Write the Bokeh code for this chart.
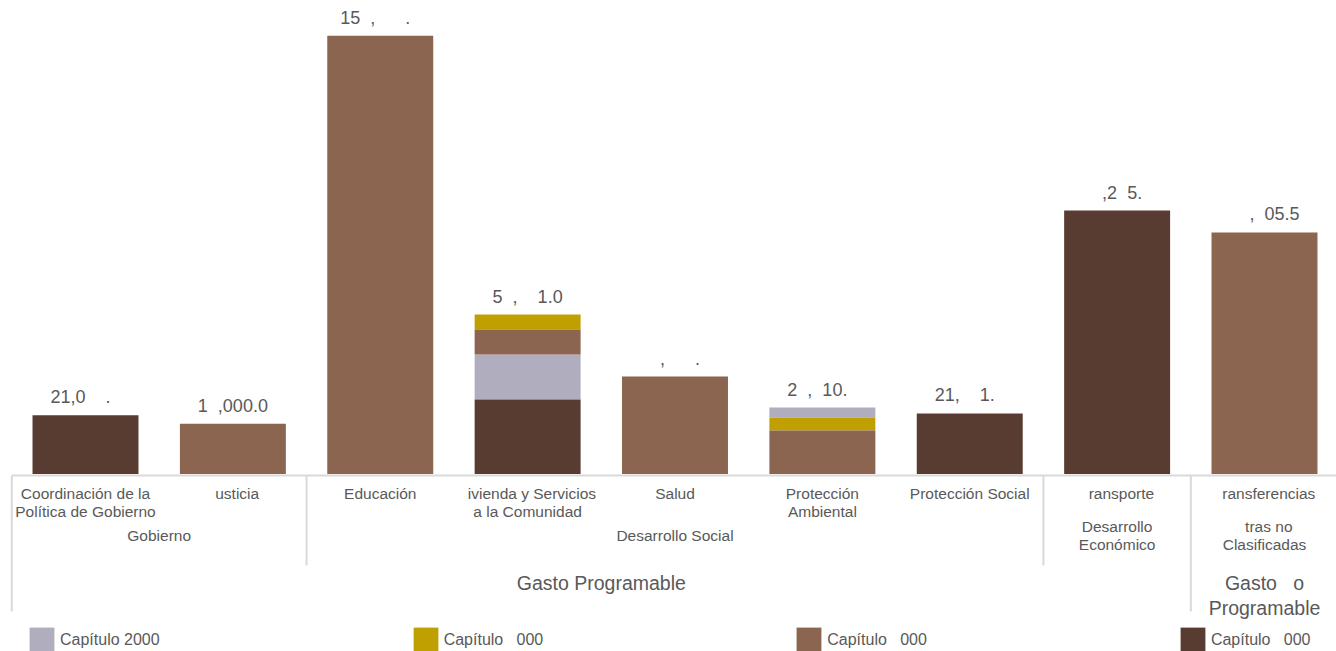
from bokeh.plotting import figure
from bokeh.models import ColumnDataSource, Legend, LegendItem, Range1d
from bokeh.embed import file_html
from bokeh.resources import INLINE
from bokeh.core.properties import value

# ---------------- data ----------------
# '#' marks a character that is not printed in the source (shown as a blank gap)
categories = [
    "Coordinación de la\nPolítica de Gobierno",
    "#usticia",
    "Educación",
    "#ivienda y Servicios\na la Comunidad",
    "Salud",
    "Protección\nAmbiental",
    "Protección Social",
    "#ransporte",
    "#ransferencias",
]
cap2000 = [0, 0, 0, 16110, 0, 3580, 0, 0, 0]
cap3000 = [0, 0, 0, 5370, 0, 4650, 0, 0, 0]
cap4000 = [0, 18000, 156900, 8950, 34900, 15570, 0, 0, 86460]
cap6000 = [21050, 0, 0, 26670, 0, 0, 21660, 94330, 0]
value_labels = ["21,0##.#", "1#,000.0", "15#,###.#", "5#,##1.0", "##,###.#",
                "2#,#10.#", "21,##1.#", "##,2#5.#", "##,#05.5"]
# stacking order (bottom -> top) for each category
stack_orders = [
    ["c6000", "c2000", "c4000", "c3000"],
    ["c6000", "c2000", "c4000", "c3000"],
    ["c6000", "c2000", "c4000", "c3000"],
    ["c6000", "c2000", "c4000", "c3000"],
    ["c6000", "c2000", "c4000", "c3000"],
    ["c4000", "c3000", "c2000", "c6000"],
    ["c6000", "c2000", "c4000", "c3000"],
    ["c6000", "c2000", "c4000", "c3000"],
    ["c6000", "c2000", "c4000", "c3000"],
]
series_names = ["c2000", "c3000", "c4000", "c6000"]
legend_labels = ["Capítulo 2000", "Capítulo #000", "Capítulo #000", "Capítulo #000"]
colors = ["#b0adbf", "#bfa000", "#8b654f", "#583c32"]
subgroups = [("Gobierno", 0, 1), ("Desarrollo Social", 2, 6),
             ("Desarrollo\nEconómico", 7, 7), ("#tras no\nClasificadas", 8, 8)]
topgroups = [("Gasto Programable", 0, 7), ("Gasto #o\nProgramable", 8, 8)]

GAP = "\u00a0\u00a0"


def shown(s):
    return s.replace("#", GAP)


# ---------------- layout helpers ----------------
SCALE = 358.0      # value units per pixel
BASE_PX = 473.5    # pixel row of the zero line
W, H = 1336, 651


def ypx(py):
    return (BASE_PX - py) * SCALE


def xpx(px):
    return (px - 85.0) / 147.375


TXT = "#595959"
FONT_NAME = "Liberation Sans"
FONT = value(FONT_NAME)

p = figure(width=W, height=H,
           x_range=Range1d(xpx(0), xpx(W)),
           y_range=Range1d(ypx(H), ypx(0)),
           x_axis_location=None, y_axis_location=None,
           min_border=0, toolbar_location=None, output_backend="svg")
p.grid.visible = False
p.outline_line_color = None
p.background_fill_color = "white"
p.border_fill_color = "white"

vals = {"c2000": cap2000, "c3000": cap3000, "c4000": cap4000, "c6000": cap6000}
idx = list(range(len(categories)))
bottoms = {s: [0.0] * len(idx) for s in series_names}
tops = {s: [0.0] * len(idx) for s in series_names}
for i in idx:
    acc = 0.0
    for s in stack_orders[i]:
        bottoms[s][i] = acc
        acc += vals[s][i]
        tops[s][i] = acc
totals = [sum(vals[s][i] for s in series_names) for i in idx]

renderers = []
for s, c in zip(series_names, colors):
    src = ColumnDataSource(dict(x=idx, bottom=bottoms[s], top=tops[s]))
    r = p.vbar(x="x", bottom="bottom", top="top", width=0.719, source=src,
               fill_color=c, line_color=None)
    renderers.append(r)

# value labels
p.text(x=idx, y=totals, text=[shown(t) for t in value_labels], text_align="center",
       text_baseline="middle", y_offset=-18, text_font=FONT,
       text_font_size="18px", text_color=TXT)

# separator lines
LINE = "#d9d9d9"
p.segment(x0=[-0.5], y0=[ypx(475)], x1=[8.6], y1=[ypx(475)],
          line_color=LINE, line_width=2)
p.segment(x0=[-0.5, 1.5, 6.5, 7.5, 8.5],
          y0=[ypx(475)] * 5,
          x1=[-0.5, 1.5, 6.5, 7.5, 8.5],
          y1=[ypx(611), ypx(565), ypx(565), ypx(611), ypx(611)],
          line_color=LINE, line_width=2)

# category labels
p.text(x=idx, y=[ypx(484)] * len(idx), text=[shown(t) for t in categories],
       text_align="center", text_baseline="top", text_font=FONT,
       text_font_size="15.5px", text_line_height=1.1, text_color=TXT)

# sub group labels
p.text(x=[(a + b) / 2 for _, a, b in subgroups], y=[ypx(535)] * len(subgroups),
       text=[shown(t) for t, _, _ in subgroups], text_align="center",
       text_baseline="middle", text_font=FONT, text_font_size="15.5px",
       text_line_height=1.1, text_color=TXT)

# top group labels
p.text(x=[(a + b) / 2 for _, a, b in topgroups], y=[ypx(571)] * len(topgroups),
       text=[shown(t) for t, _, _ in topgroups], text_align="center",
       text_baseline="top", text_font=FONT, text_font_size="19.5px",
       text_line_height=1.15, text_color=TXT)

legend = Legend(
    items=[LegendItem(label=shown(lab), renderers=[r])
           for lab, r in zip(legend_labels, renderers)],
    orientation="horizontal", location=(26, -4), spacing=250,
    glyph_width=31, glyph_height=31, label_standoff=3, padding=0, margin=0,
    border_line_alpha=0, background_fill_alpha=0,
    label_text_font=FONT_NAME, label_text_font_size="16px", label_text_color=TXT)
p.add_layout(legend, "center")

open("out.html", "w").write(file_html(p, INLINE))
